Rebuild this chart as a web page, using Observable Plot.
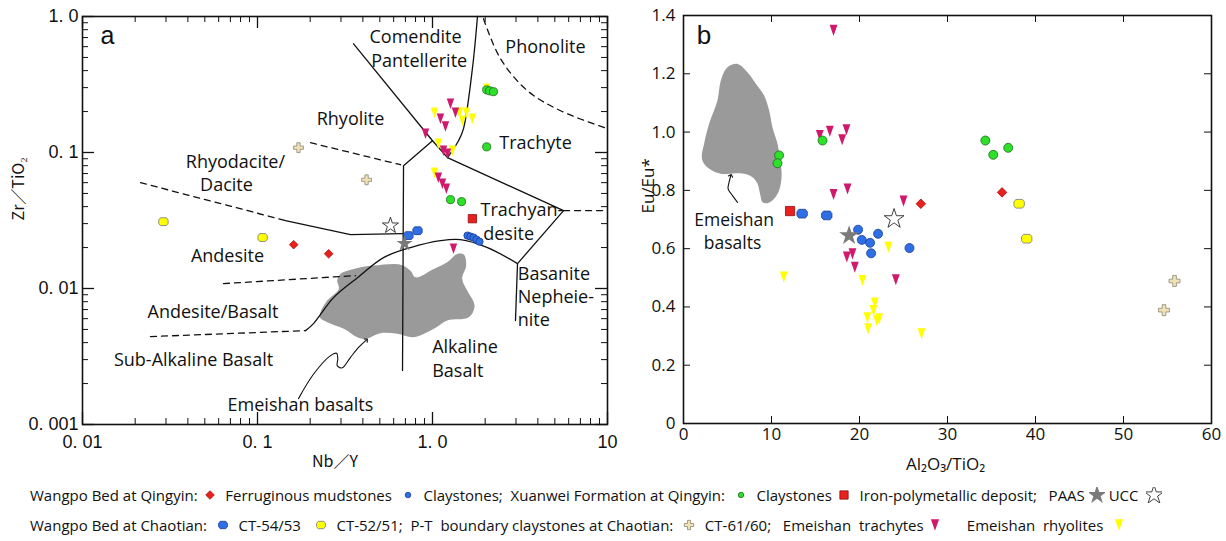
<!DOCTYPE html>
<html><head><meta charset="utf-8">
<script src="https://cdn.jsdelivr.net/npm/d3@7"></script>
<script src="https://cdn.jsdelivr.net/npm/@observablehq/plot@0.6"></script>
<style>
body{margin:0;background:#fff;}
#wrap{position:relative;width:1226px;height:541px;overflow:hidden;background:#fff;font-family:"Open Sans",sans-serif;}
#pa{position:absolute;left:0;top:0;}
#pb{position:absolute;left:620px;top:0;}
.leg{position:absolute;left:30px;white-space:pre;font-size:15px;line-height:20px;color:#111;display:flex;align-items:center;}
.leg svg{display:block;}
</style></head><body>
<div id="wrap"><div id="pa"></div><div id="pb"></div>
<div class="leg" id="leg1" style="top:485px"></div>
<div class="leg" id="leg2" style="top:515px"></div></div>
<script>
// ---------------- Panel a data (Nb/Y, Zr/TiO2) ----------------
const aFerruginous = [[0.161,0.021],[0.255,0.018]];
const aClayQingyin = [[1.585,0.0245],[1.648,0.0241],[1.715,0.0237],[1.783,0.0229],[1.856,0.0221]];
const aClayXuanwei = [[2.04,0.289],[2.12,0.284],[2.23,0.280],[2.04,0.110],[1.267,0.045],[1.466,0.0435]];
const aIron = [[1.69,0.0326]];
const aCT5453 = [[0.729,0.0245],[0.821,0.0266]];
const aCT5251 = [[0.029,0.031],[0.107,0.0237]];
const aCT6160 = [[0.1715,0.1085],[0.42,0.063]];
const aPAAS = [[0.692,0.0214]];
const aUCC = [[0.575,0.029]];
const aTrachytes = [[1.267,0.228],[1.11,0.177],[1.186,0.155],[1.352,0.196],[0.912,0.1375],[1.156,0.103],[1.218,0.098],[1.08,0.0653],[1.14,0.059],[1.2,0.0542],[1.318,0.0196]];
const aRhyolites = [[1.027,0.196],[1.426,0.196],[1.563,0.196],[1.69,0.177],[1.483,0.171],[1.08,0.116],[1.3,0.103],[1.027,0.071],[2.04,0.294]];

// field boundaries (Winchester & Floyd)
const lineA = [[0.354,0.63],[1.0,0.122],[1.218,0.0916],[5.61,0.0374]];
const lineB = [[1.0,0.122],[0.683,0.08],[0.674,0.0025]];
const lineC = [[1.807,1.0],[1.693,0.42],[1.504,0.15],[1.408,0.122],[1.218,0.0916]];
const lineD = [[5.61,0.0374],[3.06,0.01524],[2.98,0.00581]];
const lineE = [[3.06,0.01524],[2.062,0.01998],[1.445,0.02287],[1.111,0.02248],[0.749,0.01998],[0.525,0.01687],[0.373,0.01202],[0.272,0.00857],[0.209,0.00552],[0.188,0.0049]];
const lineF = [[0.1445,0.0316],[0.34,0.0249],[0.674,0.0253]];
const dashPhon = [[1.956,0.962],[2.447,0.489],[3.49,0.2844],[5.39,0.2028],[10,0.1496]];
const dashTrAn = [[5.61,0.0374],[10,0.0374]];
const dashRhy = [[0.2009,0.118],[0.6565,0.0813]];
const dashRhd = [[0.02145,0.06],[0.1445,0.0316]];
const dashAnd = [[0.0639,0.01086],[0.363,0.01244]];
const dashAB = [[0.02446,0.00443],[0.188,0.0049]];
const aBasaltField = [[0.229,0.00669],[0.2502,0.00815],[0.2914,0.00993],[0.2853,0.01143],[0.298,0.0128],[0.355,0.01393],[0.462,0.01473],[0.6565,0.01498],[0.7486,0.01353],[0.7998,0.01209],[1.017,0.01393],[1.213,0.01558],[1.384,0.01796],[1.51,0.01775],[1.558,0.01473],[1.478,0.01176],[1.579,0.00965],[1.738,0.00748],[1.612,0.00614],[1.213,0.00581],[1.017,0.00505],[0.7818,0.00438],[0.6285,0.00464],[0.5045,0.00469],[0.4142,0.00426],[0.3713,0.00438],[0.3112,0.00505],[0.2502,0.00564],[0.227,0.00614]];
const aArrow = [[0.1715,0.00155],[0.2098,0.00236],[0.2613,0.00321],[0.2828,0.00334],[0.2877,0.00304],[0.2853,0.00271],[0.3048,0.00261],[0.34,0.00312],[0.3793,0.0037],[0.4198,0.00419]];
const aLabelsMid = [["Comendite",0.80,0.701],["Pantellerite",0.839,0.4726],["Phonolite",4.42,0.592],["Rhyolite",0.34,0.1763],["Trachyte",3.88,0.1166],["Rhyodacite/",0.0748,0.0846],["Dacite",0.0665,0.057],["Andesite",0.0674,0.01716],["Andesite/Basalt",0.0557,0.00669],["Sub-Alkaline Basalt",0.0431,0.00295],["Emeishan basalts",0.176,0.00138]];
const aLabelsStart = [["Trachyan-",1.88,0.0374],["desite",1.949,0.0252],["Basanite",3.07,0.0128],["Nepheie-",3.07,0.00861],["nite",3.07,0.00581],["Alkaline",0.996,0.0037],["Basalt",0.996,0.00246]];
const aPanelLabel = [["a",0.0139,0.72]];
const aXTicks = [0.01,0.1,1,10];
const aXTickLabels = ["0. 01","0. 1","1. 0","10"];
const aYTicks = [0.001,0.01,0.1,1];
const aYTickLabels = ["0. 001","0. 01","0. 1","1. 0"];

// ---------------- Panel b data (Al2O3/TiO2, Eu/Eu*) ----------------
const bFerruginous = [[26.97,0.754],[36.2,0.793]];
const bClayQingyin = [[19.84,0.665],[20.26,0.63],[21.2,0.62],[22.11,0.651],[21.32,0.584],[25.68,0.602]];
const bClayXuanwei = [[10.86,0.92],[10.68,0.893],[15.8,0.971],[34.3,0.971],[35.2,0.922],[36.9,0.946]];
const bIron = [[12.11,0.729]];
const bCT5453 = [[13.48,0.72],[16.28,0.714]];
const bCT5251 = [[38.14,0.754],[39.0,0.634]];
const bCT6160 = [[55.8,0.489],[54.6,0.389]];
const bPAAS = [[18.82,0.645]];
const bUCC = [[23.93,0.702]];
const bTrachytes = [[17.05,1.349],[15.49,0.988],[16.63,1.003],[18.52,1.008],[18.03,0.9735],[17.05,0.786],[18.64,0.805],[25.0,0.763],[18.56,0.571],[19.2,0.582],[19.47,0.536],[24.13,0.493]];
const bRhyolites = [[11.4,0.503],[23.3,0.605],[20.34,0.491],[21.74,0.413],[21.59,0.388],[20.9,0.363],[22.23,0.359],[21.97,0.353],[20.98,0.325],[27.05,0.308]];
const bBasaltField = [[6.14,1.234],[7.27,1.2056],[8.22,1.166],[9.16,1.1256],[9.73,1.0741],[10.11,1.0168],[10.68,0.9598],[11.06,0.8912],[11.14,0.8452],[10.86,0.7996],[10.3,0.7711],[9.55,0.756],[8.98,0.7594],[8.7,0.7883],[8.41,0.8226],[7.84,0.8452],[6.89,0.8569],[5.94,0.859],[4.24,0.8569],[3.1,0.8706],[2.34,0.8912],[2.08,0.9139],[2.34,0.9598],[2.91,1.0285],[3.86,1.1084],[4.24,1.1771],[5.0,1.2227]];
const bArrow = [[6.14,0.759],[5.57,0.782],[5.07,0.805],[5.18,0.828],[5.38,0.851]];
const bLabels = [["Emeishan",5.75,0.697],["basalts",5.57,0.619]];
const bPanelLabel = [["b",2.34,1.331]];
const bXTicks = [0,10,20,30,40,50,60];
const bYTicks = [0,0.2,0.4,0.6,0.8,1.0,1.2,1.4];
const bYTickLabels = ["0","0.2","0.4","0.6","0.8","1.0","1.2","1.4"];

// ---------------- symbols & styles ----------------
const triDown = {draw(ctx, size){const r=Math.sqrt(size/Math.PI);ctx.moveTo(-0.85*r,-1.2*r);ctx.lineTo(0.85*r,-1.2*r);ctx.lineTo(0,1.2*r);ctx.closePath();}};
const octa = {draw(ctx, size){const r=Math.sqrt(size/Math.PI);const a=0.62*r,b=0.98*r,h=0.82*r,k=0.36*r;ctx.moveTo(-a,-h);ctx.lineTo(a,-h);ctx.lineTo(b,-k);ctx.lineTo(b,k);ctx.lineTo(a,h);ctx.lineTo(-a,h);ctx.lineTo(-b,k);ctx.lineTo(-b,-k);ctx.closePath();}};
const ST = {
  fer:{symbol:d3.symbolDiamond2,fill:"#e8201e",stroke:"#a51212",r:4.3},
  clayQ:{symbol:d3.symbolCircle,fill:"#2f6fe6",stroke:"#1b3d8f",r:4.3},
  clayX:{symbol:d3.symbolCircle,fill:"#2ee02a",stroke:"#1d6a1d",r:4.5},
  iron:{symbol:d3.symbolSquare,fill:"#e8201e",stroke:"#8a1010",r:5.2},
  ct54:{symbol:octa,fill:"#2f6fe6",stroke:"#1b3d8f",r:5.3},
  ct52:{symbol:octa,fill:"#ffff00",stroke:"#777",r:5.3},
  ct61:{symbol:d3.symbolCross,fill:"#efe3b6",stroke:"#8c8774",r:4.6},
  paas:{symbol:d3.symbolStar,fill:"#7a7a7a",stroke:"none",r:4.6},
  ucc:{symbol:d3.symbolStar,fill:"#fff",stroke:"#111",r:4.6},
  tra:{symbol:triDown,fill:"#d0186c",stroke:"none",r:4.6},
  rhy:{symbol:triDown,fill:"#ffff00",stroke:"none",r:4.6}
};
function dots(data, s, scale=1){
  return Plot.dot(data,{x:d=>d[0],y:d=>d[1],symbol:s.symbol,r:s.r*scale,fill:s.fill,stroke:s.stroke,strokeWidth:0.8,strokeLinejoin:"round"});
}
function path(data, opts={}){
  return Plot.line(data,{x:d=>d[0],y:d=>d[1],stroke:"#111",strokeWidth:1.3,...opts});
}

// ---------------- Panel a ----------------
const WA=620,HA=480,mlA=82,mrA=13,mtA=16,mbA=56;
const iwA=WA-mlA-mrA, ihA=HA-mtA-mbA;
const aMinorX=[], aMinorY=[];
for (const d of [0.01,0.1,1]) for (let k=2;k<10;k++) aMinorX.push(+(k*d).toPrecision(3));
for (const d of [0.001,0.01,0.1]) for (let k=2;k<10;k++) aMinorY.push(+(k*d).toPrecision(3));
const aXFmt=new Map(aXTicks.map((v,i)=>[v,aXTickLabels[i]]));
const aYFmt=new Map(aYTicks.map((v,i)=>[v,aYTickLabels[i]]));
const dash="6,5";
const plotA = Plot.plot({
  width:WA,height:HA,marginLeft:mlA,marginRight:mrA,marginTop:mtA,marginBottom:mbA,
  style:{fontFamily:"Liberation Sans",fontSize:"18px",color:"#111",background:"transparent"},
  x:{type:"log",domain:[0.01,10]},
  y:{type:"log",domain:[0.001,1]},
  marks:[
    Plot.line(aBasaltField,{x:d=>d[0],y:d=>d[1],fill:"#9a9a9a",stroke:"none",curve:"catmull-rom-closed"}),
    path(lineA), path(lineB), path(lineC,{curve:"catmull-rom"}), path(lineD),
    path(lineE,{curve:"catmull-rom"}), path(lineF),
    path(dashPhon,{curve:"catmull-rom",strokeDasharray:dash}),
    path(dashTrAn,{strokeDasharray:dash}), path(dashRhy,{strokeDasharray:dash}),
    path(dashRhd,{strokeDasharray:dash}), path(dashAnd,{strokeDasharray:dash}),
    path(dashAB,{strokeDasharray:dash}),
    path(aArrow,{curve:"catmull-rom",strokeWidth:1.1,markerEnd:"arrow"}),
    Plot.text(aLabelsMid,{x:d=>d[1],y:d=>d[2],text:d=>d[0],fontFamily:"Open Sans",fontSize:18,fill:"#111"}),
    Plot.text(aLabelsStart,{x:d=>d[1],y:d=>d[2],text:d=>d[0],textAnchor:"start",fontFamily:"Open Sans",fontSize:18,fill:"#111"}),
    Plot.text(aPanelLabel,{x:d=>d[1],y:d=>d[2],text:d=>d[0],fontFamily:"Liberation Sans",fontSize:25,fill:"#111"}),
    dots(aCT6160,ST.ct61,0.9), dots(aRhyolites,ST.rhy,0.95), dots(aTrachytes,ST.tra,0.95),
    dots(aClayXuanwei,ST.clayX,0.9), dots(aFerruginous,ST.fer,0.9), dots(aClayQingyin,ST.clayQ,0.85),
    dots(aIron,ST.iron,0.9), dots(aCT5453,ST.ct54,0.9), dots(aCT5251,ST.ct52,0.9),
    dots(aPAAS,ST.paas,1.1), dots(aUCC,ST.ucc,1.1),
    // inward tick marks on all four sides
    Plot.tickX(aMinorX,{x:d=>d,insetTop:ihA-6,stroke:"#111"}),
    Plot.tickX(aMinorX,{x:d=>d,insetBottom:ihA-6,stroke:"#111"}),
    Plot.tickX(aXTicks,{x:d=>d,insetTop:ihA-12,stroke:"#111",strokeWidth:1.3}),
    Plot.tickX(aXTicks,{x:d=>d,insetBottom:ihA-12,stroke:"#111",strokeWidth:1.3}),
    Plot.tickY(aMinorY,{y:d=>d,insetRight:iwA-6,stroke:"#111"}),
    Plot.tickY(aMinorY,{y:d=>d,insetLeft:iwA-6,stroke:"#111"}),
    Plot.tickY(aYTicks,{y:d=>d,insetRight:iwA-12,stroke:"#111",strokeWidth:1.3}),
    Plot.tickY(aYTicks,{y:d=>d,insetLeft:iwA-12,stroke:"#111",strokeWidth:1.3}),
    Plot.frame({stroke:"#111",strokeWidth:1.6}),
    Plot.axisX({ticks:aXTicks,tickFormat:d=>aXFmt.get(d),tickSize:0,tickPadding:11,fontSize:18}),
    Plot.axisY({ticks:aYTicks,tickFormat:d=>aYFmt.get(d),tickSize:0,tickPadding:4,fontSize:18}),
    Plot.text(["Nb／Y"],{frameAnchor:"bottom",dx:-10,dy:42,fontFamily:"Noto Sans CJK SC",fontSize:16,fill:"#111"}),
    Plot.text(["Zr／TiO₂"],{frameAnchor:"left",dx:-64,rotate:-90,fontFamily:"Noto Sans CJK SC",fontSize:16,fill:"#111"})
  ]
});
document.getElementById("pa").appendChild(plotA);

// ---------------- Panel b ----------------
const WB=606,HB=480,mlB=63,mrB=15,mtB=15,mbB=57;
const iwB=WB-mlB-mrB, ihB=HB-mtB-mbB;
const bYFmt=new Map(bYTicks.map((v,i)=>[v,bYTickLabels[i]]));
const bInX=bXTicks.slice(1,-1), bInY=bYTicks.slice(1,-1);
const plotB = Plot.plot({
  width:WB,height:HB,marginLeft:mlB,marginRight:mrB,marginTop:mtB,marginBottom:mbB,
  style:{fontFamily:"Open Sans",fontSize:"17px",color:"#111",background:"transparent"},
  x:{domain:[0,60]},
  y:{domain:[0,1.4]},
  marks:[
    Plot.line(bBasaltField,{x:d=>d[0],y:d=>d[1],fill:"#9a9a9a",stroke:"none",curve:"catmull-rom-closed"}),
    path(bArrow,{curve:"catmull-rom",strokeWidth:1.1,markerEnd:"arrow"}),
    Plot.text(bLabels,{x:d=>d[1],y:d=>d[2],text:d=>d[0],fontFamily:"Open Sans",fontSize:17.5,fill:"#111"}),
    Plot.text(bPanelLabel,{x:d=>d[1],y:d=>d[2],text:d=>d[0],fontFamily:"Liberation Sans",fontSize:26,fill:"#111"}),
    dots(bCT6160,ST.ct61), dots(bRhyolites,ST.rhy), dots(bTrachytes,ST.tra),
    dots(bClayXuanwei,ST.clayX), dots(bFerruginous,ST.fer), dots(bClayQingyin,ST.clayQ,1.05),
    dots(bIron,ST.iron), dots(bCT5453,ST.ct54), dots(bCT5251,ST.ct52),
    dots(bPAAS,ST.paas,1.35), dots(bUCC,ST.ucc,1.35),
    Plot.tickX(bInX,{x:d=>d,insetTop:ihB-7,stroke:"#111"}),
    Plot.tickX(bInX,{x:d=>d,insetBottom:ihB-7,stroke:"#111"}),
    Plot.tickY(bInY,{y:d=>d,insetRight:iwB-7,stroke:"#111"}),
    Plot.tickY(bInY,{y:d=>d,insetLeft:iwB-7,stroke:"#111"}),
    Plot.frame({stroke:"#111",strokeWidth:1.6}),
    Plot.axisX({ticks:bXTicks,tickFormat:d=>String(d),tickSize:0,tickPadding:4}),
    Plot.axisY({ticks:bYTicks,tickFormat:d=>bYFmt.get(d),tickSize:0,tickPadding:8}),
    Plot.text(["Al₂O₃/TiO₂"],{frameAnchor:"bottom",dx:-2,dy:46,fontFamily:"Open Sans",fontSize:17,fill:"#111"}),
    Plot.text(["Eu/Eu*"],{frameAnchor:"left",dx:-35,dy:-6,rotate:-90,fontFamily:"Open Sans",fontSize:17,fill:"#111"})
  ]
});
document.getElementById("pb").appendChild(plotB);

// ---------------- Legend ----------------
function icon(s, scale=1){
  const n=16;
  const svg=d3.create("svg").attr("width",n).attr("height",n).attr("viewBox",`${-n/2} ${-n/2} ${n} ${n}`);
  svg.append("path").attr("d",d3.symbol(s.symbol,Math.PI*(s.r*scale)**2)())
    .attr("fill",s.fill).attr("stroke",s.stroke||"none").attr("stroke-width",0.8).attr("stroke-linejoin","round");
  return svg.node();
}
const legRow1 = ["Wangpo Bed at Qingyin: ",["fer",0.9],"  Ferruginous mudstones  ",["clayQ",0.65],"  Claystones;  Xuanwei Formation at Qingyin:  ",["clayX",0.6],"  Claystones ",["iron",0.9],"  Iron-polymetallic deposit;   PAAS ",["paas",1.3]," UCC  ",["ucc",1.3]];
const legRow2 = ["Wangpo Bed at Chaotian:  ",["ct54",0.85],"  CT-54/53   ",["ct52",0.85],"  CT-52/51;  P-T  boundary claystones at Chaotian:  ",["ct61",0.85],"  CT-61/60;   Emeishan  trachytes ",["tra",1.05],"      Emeishan  rhyolites  ",["rhy",1.05]];
function fillRow(id, items){
  const el=document.getElementById(id);
  for (const it of items){
    if (typeof it==="string"){const sp=document.createElement("span");sp.textContent=it;el.appendChild(sp);}
    else el.appendChild(icon(ST[it[0]],it[1]));
  }
}
fillRow("leg1",legRow1);
fillRow("leg2",legRow2);
</script>
</body></html>
